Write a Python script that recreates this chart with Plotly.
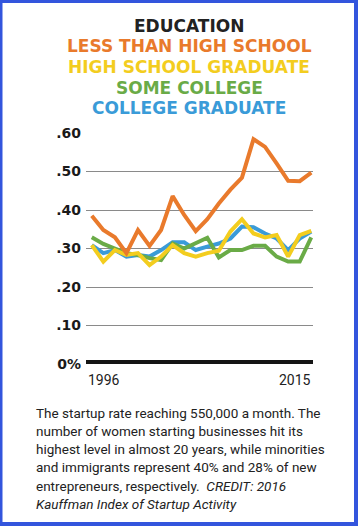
import plotly.graph_objects as go

years = list(range(1996, 2016))
less_than_hs = [0.385, 0.348, 0.329, 0.288, 0.348, 0.307, 0.348, 0.436, 0.387, 0.345,
                0.376, 0.417, 0.453, 0.484, 0.584, 0.564, 0.521, 0.476, 0.475, 0.497]
hs_graduate = [0.309, 0.266, 0.296, 0.283, 0.288, 0.257, 0.279, 0.309, 0.288, 0.279,
               0.288, 0.294, 0.344, 0.376, 0.339, 0.329, 0.335, 0.279, 0.335, 0.346]
some_college = [0.329, 0.312, 0.300, 0.288, 0.283, 0.275, 0.270, 0.313, 0.300, 0.313,
                0.328, 0.277, 0.296, 0.296, 0.307, 0.307, 0.279, 0.266, 0.266, 0.329]
college_grad = [0.309, 0.288, 0.296, 0.279, 0.283, 0.279, 0.296, 0.316, 0.316, 0.296,
                0.305, 0.313, 0.326, 0.357, 0.355, 0.339, 0.326, 0.296, 0.326, 0.344]

series_names = ["LESS THAN HIGH SCHOOL", "HIGH SCHOOL GRADUATE", "SOME COLLEGE", "COLLEGE GRADUATE"]
series_colors = ["#e97a2c", "#f3cd1f", "#6aab47", "#3a9bd8"]
title_text = "EDUCATION"

y_tickvals = [0, 0.1, 0.2, 0.3, 0.4, 0.5, 0.6]
y_ticktext = ["0%", ".10", ".20", ".30", ".40", ".50", ".60"]
x_labels = ["1996", "2015"]

caption_lines = [
    "The startup rate reaching 550,000 a month. The",
    "number of women starting businesses hit its",
    "highest level in almost 20 years, while minorities",
    "and immigrants represent 40% and 28% of new",
    "entrepreneurs, respectively.  <i>CREDIT: 2016</i>",
    "<i>Kauffman Index of Startup Activity</i>",
]

W, H = 358, 526
ML, MR, MT, MB = 86, 45, 133, 162
PW = W - ML - MR
PH = H - MT - MB


def px_x(px):
    return (px - ML) / PW


def px_y(py):
    return (H - MB - py) / PH


fig = go.Figure()
data_by_name = {
    "LESS THAN HIGH SCHOOL": less_than_hs,
    "HIGH SCHOOL GRADUATE": hs_graduate,
    "SOME COLLEGE": some_college,
    "COLLEGE GRADUATE": college_grad,
}
# draw order: blue, green, yellow, orange on top
for idx in [3, 2, 1, 0]:
    name = series_names[idx]
    fig.add_trace(go.Scatter(
        x=years, y=data_by_name[name], mode="lines", name=name,
        line=dict(color=series_colors[idx], width=4), showlegend=False,
        hoverinfo="skip",
    ))

shapes = [
    # white card inside blue frame
    dict(type="rect", xref="paper", yref="paper", layer="below",
         x0=px_x(2.5), x1=px_x(354), y0=px_y(522), y1=px_y(3),
         fillcolor="white", line=dict(width=0)),
    # thick baseline
    dict(type="line", xref="paper", yref="y", x0=0, x1=1, y0=0, y1=0,
         line=dict(color="#151515", width=8)),
]

annotations = []
title_parts = [(title_text, "#222222")] + list(zip(series_names, series_colors))
title_y = [25.7, 46.3, 67, 87.7, 108.3]
for (txt, col), ty in zip(title_parts, title_y):
    annotations.append(dict(
        text=txt, xref="paper", yref="paper", x=px_x(189), y=px_y(ty),
        xanchor="center", yanchor="middle", showarrow=False,
        font=dict(family="DejaVu Sans", size=17, color=col, weight="bold"),
    ))

annotations.append(dict(text=x_labels[0], xref="paper", yref="paper", x=0, y=px_y(380),
                        xanchor="left", yanchor="middle", showarrow=False,
                        font=dict(family="Roboto", size=14, color="#222222")))
annotations.append(dict(text=x_labels[1], xref="paper", yref="paper", x=1, y=px_y(380),
                        xanchor="right", yanchor="middle", showarrow=False,
                        font=dict(family="Roboto", size=14, color="#222222")))

cap_y = [413, 431, 449, 467, 485.5, 503.5]
for line, cy in zip(caption_lines, cap_y):
    annotations.append(dict(text=line, xref="paper", yref="paper", x=px_x(34), y=px_y(cy),
                            xanchor="left", yanchor="middle", showarrow=False, align="left",
                            font=dict(family="Roboto", size=13.5, color="#222222")))

fig.update_layout(
    width=W, height=H,
    margin=dict(l=ML, r=MR, t=MT, b=MB, autoexpand=False),
    paper_bgcolor="#3355dd",
    plot_bgcolor="white",
    shapes=shapes,
    annotations=annotations,
    xaxis=dict(range=[1995.5, 2015.15], showgrid=False, showticklabels=False,
               zeroline=False, showline=False, fixedrange=True),
    yaxis=dict(range=[0, 0.6], tickvals=y_tickvals, ticktext=y_ticktext,
               showgrid=True, gridcolor="#8a8a8a", gridwidth=1, zeroline=False,
               showline=False, ticks="", ticklabelstandoff=4,
               tickfont=dict(family="DejaVu Sans", size=14, color="#1a1a1a", weight="bold"),
               fixedrange=True),
)

fig.write_html(
    "out.html",
    config={"displayModeBar": False},
    post_script="document.body.style.margin='0';document.body.style.overflow='hidden';",
)
